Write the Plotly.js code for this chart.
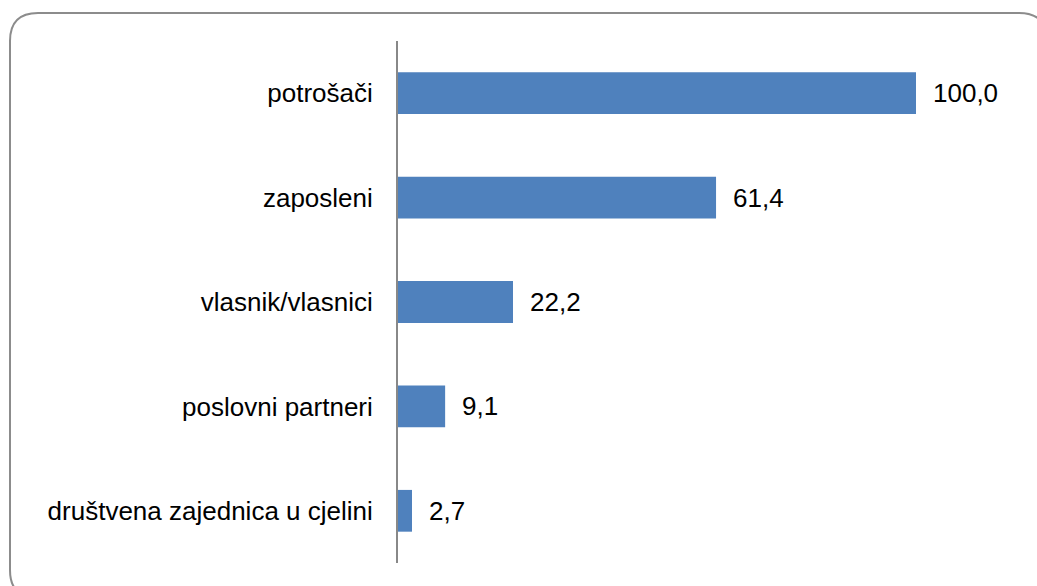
<!DOCTYPE html>
<html>
<head>
<meta charset="utf-8">
<script src="https://cdn.plot.ly/plotly-3.0.1.min.js"></script>
<style>
html,body{margin:0;padding:0;background:#fff;}
#chart{width:1037px;height:586px;}
</style>
</head>
<body>
<div id="chart"></div>
<script>
const categories = ["potrošači", "zaposleni", "vlasnik/vlasnici", "poslovni partneri", "društvena zajednica u cjelini"];
const values = [100.0, 61.4, 22.2, 9.1, 2.7];
const valueLabels = ["100,0", "61,4", "22,2", "9,1", "2,7"];

const W = 1037, H = 586;
const L = 398, R = 916, T = 41, B = 563;
const pw = R - L, ph = B - T;
function px(x){ return (x - L) / pw; }
function py(y){ return (B - y) / ph; }

// rounded frame (pixel coords converted to paper)
const fx0 = 10, fy0 = 13, fx1 = 1047, fy1 = 598, rad = 28;
const framePath =
  `M ${px(fx0)} ${py(fy0+rad)} ` +
  `Q ${px(fx0)} ${py(fy0)} ${px(fx0+rad)} ${py(fy0)} ` +
  `L ${px(fx1-rad)} ${py(fy0)} ` +
  `Q ${px(fx1)} ${py(fy0)} ${px(fx1)} ${py(fy0+rad)} ` +
  `L ${px(fx1)} ${py(fy1-rad)} ` +
  `Q ${px(fx1)} ${py(fy1)} ${px(fx1-rad)} ${py(fy1)} ` +
  `L ${px(fx0+rad)} ${py(fy1)} ` +
  `Q ${px(fx0)} ${py(fy1)} ${px(fx0)} ${py(fy1-rad)} Z`;

const FONT = "Liberation Sans, Arial, sans-serif";

const trace = {
  type: "bar",
  orientation: "h",
  y: categories,
  x: values,
  marker: {color: "#4F81BD"},
  hoverinfo: "none",
  cliponaxis: false
};

const annotations = categories.map((c, i) => ({
  x: values[i], y: c, xref: "x", yref: "y",
  text: valueLabels[i], showarrow: false,
  xanchor: "left", yanchor: "middle", xshift: 15,
  font: {family: FONT, size: 26, color: "#000"}
}));

const layout = {
  width: W, height: H,
  margin: {l: L, r: W - R, t: T, b: H - B, pad: 0},
  paper_bgcolor: "#fff", plot_bgcolor: "#fff",
  showlegend: false,
  bargap: 0.6,
  font: {family: FONT, size: 26, color: "#000"},
  xaxis: {range: [0, 100], visible: false, fixedrange: true},
  yaxis: {
    type: "category",
    autorange: "reversed",
    showline: true, linecolor: "#888888", linewidth: 2,
    showgrid: false, zeroline: false,
    ticks: "", ticklabelstandoff: 18,
    tickfont: {family: FONT, size: 26, color: "#000"},
    fixedrange: true
  },
  annotations: annotations,
  shapes: [{
    type: "path", xref: "paper", yref: "paper", path: framePath,
    line: {color: "#8c8c8c", width: 2}, fillcolor: "rgba(0,0,0,0)", layer: "below"
  }]
};

Plotly.newPlot("chart", [trace], layout, {displayModeBar: false, staticPlot: true});
</script>
</body>
</html>
